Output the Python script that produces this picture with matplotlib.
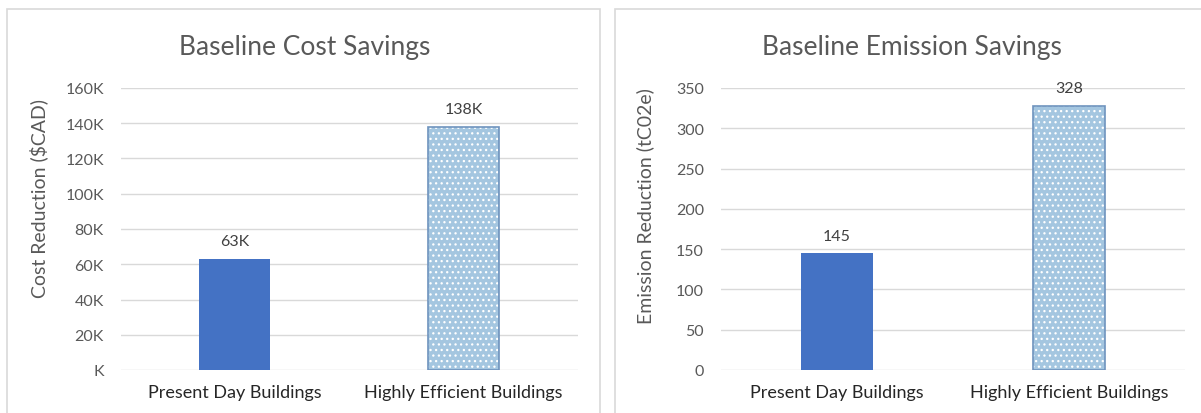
import matplotlib
matplotlib.use("Agg")
import matplotlib.pyplot as plt
from matplotlib.patches import Rectangle

plt.rcParams['font.family'] = ['Lato', 'DejaVu Sans']
plt.rcParams['hatch.linewidth'] = 0.9

# data
categories = ["Present Day Buildings", "Highly Efficient Buildings"]
cost_savings = [63000, 138000]
cost_labels = ["63K", "138K"]
cost_ticks = [0, 20000, 40000, 60000, 80000, 100000, 120000, 140000, 160000]
cost_ticklabels = ["K", "20K", "40K", "60K", "80K", "100K", "120K", "140K", "160K"]

emission_savings = [145, 328]
emission_labels = ["145", "328"]
emission_ticks = [0, 50, 100, 150, 200, 250, 300, 350]

grey = "#595959"
grid = "#D9D9D9"
solid = "#4472C4"
light = "#A4C6E0"
edge = "#6E93BE"

fig = plt.figure(figsize=(12.01, 4.14), dpi=100)

# panel borders (chart area boxes)
fig.patches.append(Rectangle((7/1201, -0.01), (600-7)/1201, (414-10)/414 + 0.01,
                             transform=fig.transFigure, fill=False, ec="#D9D9D9", lw=1.2))
fig.patches.append(Rectangle((615/1201, -0.01), (1205-615)/1201, (414-10)/414 + 0.01,
                             transform=fig.transFigure, fill=False, ec="#D9D9D9", lw=1.2))


def draw_panel(ax, values, labels, ticks, ticklabels, ymax, ylabel, offset):
    x = range(len(categories))
    # first bar solid, second with dotted pattern
    ax.bar(x[0], values[0], width=0.31, color=solid, zorder=3)
    ax.bar(x[1], values[1], width=0.31, color=light, edgecolor="white", hatch="...",
           linewidth=0, zorder=3)
    ax.bar(x[1], values[1], width=0.31, fill=False, edgecolor=edge, linewidth=1.2, zorder=4)
    for i in x:
        ax.text(i, values[i] + offset, labels[i], ha="center", va="bottom",
                fontsize=11.5, color="#404040")
    ax.set_xlim(-0.5, 1.5)
    ax.set_ylim(0, ymax)
    ax.set_yticks(ticks)
    ax.set_yticklabels(ticklabels)
    ax.set_xticks(list(x))
    ax.set_xticklabels(categories)
    ax.tick_params(axis="both", length=0, colors=grey, labelsize=11.5)
    ax.tick_params(axis="x", pad=10, labelcolor="#262626", labelsize=13)
    ax.tick_params(axis="y", pad=12)
    ax.grid(axis="y", color=grid, lw=1, zorder=0)
    for s in ax.spines.values():
        s.set_visible(False)
    ax.set_ylabel(ylabel, fontsize=14, color=grey)


ax1 = fig.add_axes([120.5/1201, 43/414, 457.5/1201, 282/414])
draw_panel(ax1, cost_savings, cost_labels, cost_ticks, cost_ticklabels, 160000,
           "Cost Reduction ($CAD)", 6000)
ax1.yaxis.set_label_coords(-0.158, 0.61)
fig.text(305/1201, 1 - 47/414, "Baseline Cost Savings", ha="center", va="center",
         fontsize=19, color=grey)

ax2 = fig.add_axes([720.5/1201, 43/414, 465/1201, 282/414])
draw_panel(ax2, emission_savings, emission_labels, emission_ticks,
           [str(t) for t in emission_ticks], 350, "Emission Reduction (tC02e)", 13)
ax2.yaxis.set_label_coords(-0.143, 0.585)
fig.text(912/1201, 1 - 47/414, "Baseline Emission Savings", ha="center", va="center",
         fontsize=19, color=grey)

fig.savefig("out.png", dpi=100)
